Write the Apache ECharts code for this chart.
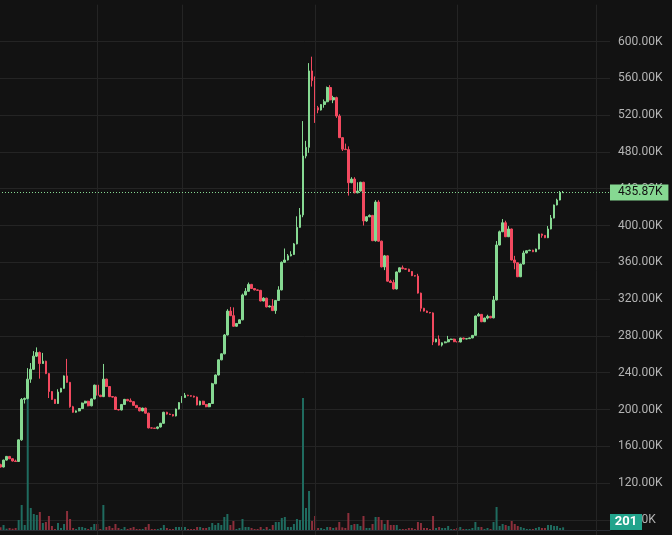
<!DOCTYPE html>
<html><head><meta charset="utf-8">
<script src="https://cdn.jsdelivr.net/npm/echarts@6/dist/echarts.min.js"></script>
<style>html,body{margin:0;padding:0;background:#121212;}#c{width:672px;height:535px;}</style>
</head><body><div id="c"></div>
<script>
const opens = [
140.0,137.5,145.0,149.0,146.5,144.0,143.5,167.0,211.0,212.0,
233.0,243.7,258.0,262.0,250.0,252.5,239.0,219.5,211.0,206.5,
219.0,223.0,236.5,229.5,203.0,197.0,198.5,201.0,207.0,209.0,
204.0,211.5,226.5,215.5,214.0,233.0,225.0,214.0,213.5,200.0,
199.5,205.5,211.0,209.5,208.5,204.5,202.0,198.5,201.5,196.0,
180.0,179.8,179.5,181.0,185.0,197.0,195.0,194.5,193.0,200.5,
207.5,213.0,215.5,215.0,214.5,213.5,205.0,209.0,205.5,203.0,
206.5,228.0,237.5,254.0,260.5,281.0,307.0,302.0,290.5,293.5,
297.5,324.5,328.5,336.0,331.5,330.0,329.5,318.0,321.0,311.5,
312.5,307.5,318.5,330.0,360.0,362.5,367.0,368.5,380.0,398.0,
411.5,475.5,485.0,568.0,557.5,528.0,525.5,531.5,534.5,550.0,
536.5,539.0,519.0,495.5,483.0,482.5,446.5,450.5,435.5,437.5,
447.0,405.0,409.5,411.0,383.5,425.5,383.0,355.0,367.0,339.5,
338.0,331.0,349.5,354.0,353.0,352.5,350.0,345.5,345.0,326.5,
310.0,307.0,305.5,305.0,273.5,276.5,270.0,272.5,273.5,276.0,
276.5,273.7,273.4,277.7,276.6,277.0,277.8,280.6,301.6,303.4,
295.4,299.4,301.3,299.6,319.0,378.8,393.2,403.0,387.8,396.2,
362.5,359.5,344.3,358.1,370.1,372.6,373.2,371.5,374.4,390.7,
389.3,386.7,396.2,408.1,422.3,427.7,435.6
];
const closes = [
137.5,145.0,149.0,146.5,144.0,143.5,167.0,211.0,212.0,233.0,
243.7,258.0,262.0,250.0,252.5,239.0,219.5,211.0,206.5,219.0,
223.0,236.5,229.5,203.0,197.0,198.5,201.0,207.0,209.0,204.0,
211.5,226.5,215.5,214.0,233.0,225.0,214.0,213.5,200.0,199.5,
205.5,211.0,209.5,208.5,204.5,202.0,198.5,201.5,196.0,180.0,
179.8,179.5,181.0,185.0,197.0,195.0,194.5,193.0,200.5,207.5,
213.0,215.5,215.0,214.5,213.5,205.0,209.0,205.5,203.0,206.5,
228.0,237.5,254.0,260.5,281.0,307.0,302.0,290.5,293.5,297.5,
324.5,328.5,336.0,331.5,330.0,329.5,318.0,321.0,311.5,312.5,
307.5,318.5,330.0,360.0,362.5,367.0,368.5,380.0,398.0,411.5,
475.5,485.0,568.0,557.5,528.0,525.5,531.5,534.5,550.0,536.5,
539.0,519.0,495.5,483.0,482.5,446.5,450.5,435.5,437.5,447.0,
405.0,409.5,411.0,383.5,425.5,383.0,355.0,367.0,339.5,338.0,
331.0,349.5,354.0,353.0,352.5,350.0,345.5,345.0,326.5,310.0,
307.0,305.5,305.0,273.5,276.5,270.0,272.5,273.5,276.0,276.5,
273.7,273.4,277.7,276.6,277.0,277.8,280.6,301.6,303.4,295.4,
299.4,301.3,299.6,319.0,378.8,393.2,403.0,387.8,396.2,362.5,
359.5,344.3,358.1,370.1,372.6,373.2,371.5,374.4,390.7,389.3,
386.7,396.2,408.1,422.3,427.7,435.6,435.87
];
const lows = [
137.0,137.0,144.5,146.0,143.5,143.0,143.0,166.0,206.5,211.0,
229.0,243.0,257.0,233.5,249.5,238.5,212.5,210.5,206.0,206.0,
218.5,222.5,229.0,202.0,196.5,196.5,198.0,200.5,206.5,203.5,
203.5,211.0,215.0,213.5,213.5,224.5,213.5,213.0,199.5,199.0,
199.0,205.0,209.0,208.0,204.0,201.5,198.0,198.0,195.5,179.5,
179.5,179.0,178.5,180.5,184.5,194.5,194.0,192.5,192.5,200.0,
207.0,212.5,214.5,214.0,213.0,204.5,204.5,205.0,202.5,202.5,
206.0,227.5,237.0,253.5,260.0,280.5,301.5,290.0,290.0,293.0,
297.0,324.0,328.0,331.0,329.5,329.0,317.5,317.5,311.0,311.0,
307.0,304.0,318.0,329.5,359.5,362.0,366.5,368.0,379.5,397.5,
409.0,473.0,479.0,551.0,511.5,522.0,525.0,528.0,534.0,536.0,
533.0,517.0,495.0,481.0,482.0,432.5,446.0,435.0,435.0,437.0,
400.0,404.0,409.0,383.0,382.5,382.5,354.5,351.5,339.0,337.5,
330.5,330.5,349.0,352.5,352.0,349.5,345.0,344.5,326.0,306.5,
306.5,305.0,304.5,270.0,273.0,269.5,268.5,272.0,273.0,275.5,
273.2,273.0,273.0,276.2,276.3,276.7,277.5,280.2,301.2,295.0,
295.0,298.0,299.2,299.2,318.6,378.4,392.8,387.4,387.4,362.1,
352.4,343.9,343.9,357.7,369.7,372.2,371.1,371.1,374.0,386.7,
386.3,386.3,395.8,407.7,421.9,427.3,435.3
];
const highs = [
141.0,145.5,149.5,149.5,147.0,145.5,167.5,212.5,213.0,245.0,
250.5,263.5,267.5,263.0,261.5,253.0,239.5,220.0,211.5,222.0,
223.5,237.0,255.0,230.0,204.0,199.0,201.5,207.5,209.5,209.5,
212.0,227.0,229.5,216.0,249.5,233.5,225.5,214.5,214.0,200.5,
206.0,211.5,211.5,212.0,209.0,205.0,202.5,202.0,202.0,196.5,
180.5,180.0,181.5,185.5,197.5,197.5,195.5,195.0,201.0,208.0,
214.5,218.0,216.0,215.5,215.0,214.0,209.5,209.5,206.0,207.0,
229.0,238.0,254.5,261.0,282.0,309.0,311.5,311.0,294.0,298.0,
326.0,332.0,338.0,336.5,332.0,330.5,330.0,322.0,321.5,313.0,
320.0,319.0,334.0,361.0,375.0,369.0,372.0,381.0,410.0,419.0,
513.5,492.0,576.5,583.5,562.0,530.0,532.0,537.0,551.0,552.5,
541.0,540.0,521.0,496.0,489.0,486.0,452.5,452.5,447.0,447.5,
447.5,410.0,412.0,411.5,427.5,427.5,383.5,368.0,367.5,341.0,
341.0,350.0,354.5,356.5,353.5,353.0,350.5,346.0,347.5,327.0,
310.5,307.5,306.0,305.5,277.0,280.5,273.0,274.0,280.0,277.0,
277.0,274.0,278.0,278.0,277.4,278.2,281.0,302.0,305.0,303.8,
299.8,303.0,301.7,323.4,383.1,394.5,407.0,405.2,399.3,396.6,
367.0,359.9,358.5,372.6,373.0,373.6,373.6,374.8,391.1,391.1,
389.7,399.4,411.4,422.7,429.1,437.5,437.5
];
const volumes = [
200,375,98,150,98,150,750,1875,375,9900,
1650,1200,1125,1350,525,600,1050,300,75,525,
150,450,1425,825,150,75,225,225,150,75,
225,450,450,75,1875,225,300,150,450,150,
75,225,75,150,225,75,75,75,225,450,
75,75,75,150,375,150,75,75,225,225,
225,225,75,75,75,225,225,150,150,225,
525,375,525,375,975,1200,375,675,75,150,
825,225,225,150,75,75,225,75,225,75,
375,600,600,900,975,225,225,450,825,750,
9900,1650,2925,675,1050,150,150,75,225,225,
150,200,600,200,150,1275,375,450,450,300,
1050,150,150,450,975,975,750,450,750,375,
375,375,75,75,75,150,150,75,600,525,
150,150,75,1050,150,225,150,150,300,75,
75,150,225,75,75,75,150,600,225,225,
75,150,75,600,1725,300,450,375,300,675,
450,300,225,150,75,75,75,150,225,150,
150,375,375,300,300,150,201
];
const slotCount = 202;
const categories = Array.from({length: slotCount}, (_, i) => String(i));
const gridLineCats = ['32', '60', '104', '151', '197'];
const priceAxis = {min: 40, max: 640, step: 40};
const volumeAxisMax = 15000;
const lastPrice = closes[closes.length - 1];
const lastVolume = volumes[volumes.length - 1];

const UP = '#86d992', DOWN = '#f2495f', VUP = '#1f6b5f', VDOWN = '#8c2f3b';
const BG = '#121212', GRID = '#242424';

const chart = echarts.init(document.getElementById('c'), null, {renderer: 'canvas'});
const candleData = opens.map((o, i) => [o, closes[i], lows[i], highs[i]]);
const volData = volumes.map((v, i) => ({value: v, itemStyle: {color: closes[i] >= opens[i] ? VUP : VDOWN}}));

chart.setOption({
  backgroundColor: BG,
  animation: false,
  grid: [
    {left: -1, right: 62, top: 4.7, height: 552, outerBoundsMode: 'none', containLabel: false},
    {left: -1, right: 62, top: 330, bottom: 5, outerBoundsMode: 'none', containLabel: false}
  ],
  xAxis: [
    {type: 'category', data: categories, gridIndex: 0, boundaryGap: true,
     axisLine: {show: false}, axisTick: {show: false}, axisLabel: {show: false}, splitLine: {show: false}},
    {type: 'category', data: categories, gridIndex: 1, boundaryGap: true,
     axisLine: {show: true, lineStyle: {color: '#2a2d35', width: 1}}, axisTick: {show: false},
     axisLabel: {show: false}, splitLine: {show: false}}
  ],
  yAxis: [
    {type: 'value', gridIndex: 0, position: 'right', min: priceAxis.min, max: priceAxis.max, interval: priceAxis.step,
     axisLine: {show: false}, axisTick: {show: false},
     axisLabel: {color: '#b4b4b4', fontSize: 12, fontFamily: 'Roboto', margin: 8,
                 showMaxLabel: false, showMinLabel: false,
                 formatter: v => v.toFixed(2) + 'K'},
     splitLine: {show: true, lineStyle: {color: GRID, width: 1}, showMaxLine: false, showMinLine: false}},
    {type: 'value', gridIndex: 1, min: 0, max: volumeAxisMax, show: false, splitLine: {show: false}}
  ],
  graphic: [
    {type: 'group', right: 30, bottom: 5, zlevel: 1, z: 100, children: [
      {type: 'rect', zlevel: 1, z: 100, shape: {x: 0, y: 0, width: 32, height: 16}, style: {fill: '#22a48c'}},
      {type: 'text', zlevel: 1, z: 101, x: 16, y: 8, style: {text: String(lastVolume), fill: '#ffffff', font: 'bold 13px Roboto',
        textAlign: 'center', textVerticalAlign: 'middle'}}
    ]}
  ],
  series: [
    {type: 'line', xAxisIndex: 0, yAxisIndex: 0, data: [], z: 1, silent: true,
     markLine: {silent: true, symbol: 'none', animation: false, label: {show: false},
                lineStyle: {color: GRID, type: 'solid', width: 1},
                data: gridLineCats.map(c => ({xAxis: c}))}},
    {type: 'bar', xAxisIndex: 1, yAxisIndex: 1, data: volData, barWidth: 2, z: 2, silent: true},
    {type: 'candlestick', xAxisIndex: 0, yAxisIndex: 0, data: candleData, barWidth: 2.2, z: 3,
     itemStyle: {color: UP, color0: DOWN, borderColor: UP, borderColor0: DOWN, borderWidth: 1},
     markLine: {silent: true, symbol: 'none', animation: false,
                lineStyle: {color: UP, type: [1, 2], width: 1},
                label: {show: true, position: 'end', distance: 0,
                        formatter: lastPrice.toFixed(2) + 'K', backgroundColor: UP, color: '#111111',
                        fontSize: 12, fontFamily: 'Roboto', padding: [2, 6, 2, 8]},
                data: [{yAxis: lastPrice}]}}
  ]
});
</script>
</body></html>
